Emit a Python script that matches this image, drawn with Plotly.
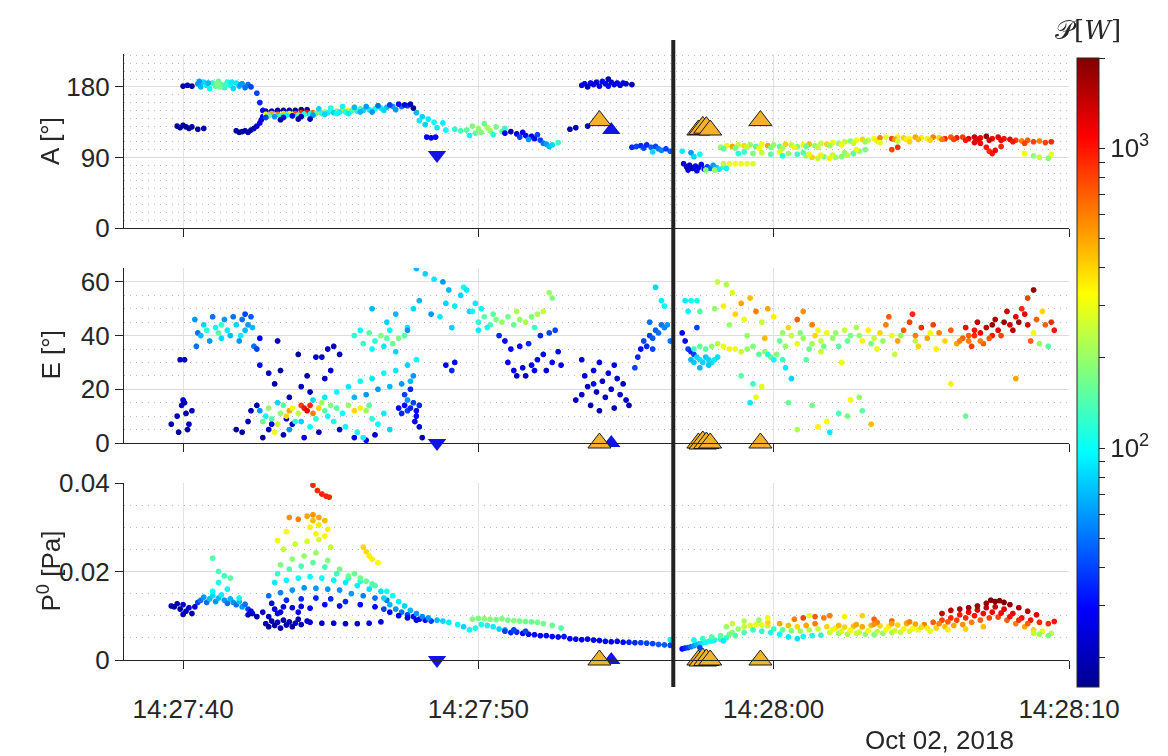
import numpy as np
import pandas as pd
import plotly.graph_objects as go

# ---------------- data (t = seconds after 14:27:00, value, power [W]) ----------------
BASE = pd.Timestamp("2018-10-02 14:27:00")

A_POINTS = [
    (40.0,181,18),(40.15,182,20),(40.3,181,18),
    (40.5,184,60),(40.6,180,70),(40.7,186,80),(40.8,182,90),(40.9,178,100),(41.0,185,120),(41.1,181,150),
    (41.2,187,160),(41.3,183,150),(41.4,179,120),(41.5,186,110),(41.6,182,100),(41.7,178,80),(41.8,185,90),
    (41.9,181,70),(42.0,184,60),(42.1,179,50),(42.2,183,50),(42.3,180,40),(42.5,172,40),(42.6,160,35),(42.7,150,30),
    (40.55,187,60),(40.85,185,70),(41.15,184,180),(41.25,180,170),(41.45,183,130),(41.65,186,90),(41.95,183,60),
    (39.8,130,18),(39.9,128,18),(40.0,131,17),(40.1,129,18),(40.2,127,17),(40.3,129,20),(40.5,126,18),(40.7,127,20),
    (41.8,124,18),(41.9,122,17),(42.0,123,18),(42.1,124,18),(42.2,122,20),(42.3,125,18),(42.4,127,20),(42.5,130,22),
    (42.6,134,25),(42.65,138,25),(42.7,142,25),
    (42.8,149,18),(43.0,149,18),(43.2,150,18),(43.4,150,18),(43.6,150,18),(43.8,150,18),(44.0,151,18),(44.2,151,18),
    (42.8,145,300),(43.0,146,500),(43.2,145,600),(43.4,146,400),(43.6,146,350),(43.8,146,800),(44.0,147,900),
    (44.2,147,1000),(44.4,147,700),(44.6,148,300),(44.8,148,200),(45.0,149,150),(45.2,149,200),(45.4,150,300),
    (45.6,150,350),(45.8,151,250),(46.0,152,150),
    (42.9,143,150),(43.1,143,200),(43.3,143,120),(43.5,144,100),(43.7,144,250),(43.9,144,150),(44.1,145,120),
    (44.3,145,100),(44.5,146,150),(44.7,146,120),(44.9,147,100),(45.1,147,80),(45.3,148,90),(45.5,148,120),
    (45.7,149,150),(45.9,149,100),(46.1,150,80),(46.3,151,90),(46.5,152,110),(46.7,153,90),(46.9,154,70),
    (47.1,155,60),(47.4,155,50),(47.6,156,40),
    (42.8,141,40),(43.1,142,60),(43.4,141,30),(43.7,143,25),(44.0,142,20),(44.4,144,60),(44.8,145,80),(45.2,146,100),
    (45.6,146,90),(46.0,148,70),(46.4,148,60),(46.8,150,80),(47.2,151,60),
    (44.6,152,80),(45.0,153,120),(45.4,155,100),(45.8,154,70),(46.2,155,60),(46.6,156,50),(47.0,157,40),(47.3,158,30),
    (47.5,157,25),(47.7,158,20),(47.8,153,18),(43.3,138,18),(43.9,139,18),(44.3,139,20),
    (47.9,147,70),(48.1,142,80),(48.3,139,90),(48.5,135,100),(48.2,132,80),(48.6,128,90),(48.9,125,100),(48.0,137,90),
    (48.8,134,90),(48.25,116,30),(48.4,115,25),(48.55,116,30),(49.2,126,120),(49.4,124,140),
    (49.6,125,150),(49.8,130,180),(49.9,121,160),(50.0,127,200),(50.1,122,180),(50.2,133,160),(50.3,128,220),
    (50.4,124,200),(50.6,129,170),(50.8,123,150),(50.5,119,120),(49.7,118,100),(50.9,127,130),
    (50.9,121,25),(51.1,123,20),(51.3,120,22),(51.5,122,25),(51.6,118,30),(51.8,117,25),(51.9,114,30),(52.0,119,40),
    (52.1,112,40),(52.2,108,50),(52.3,107,60),(52.4,104,70),(52.5,106,80),(52.7,109,130),(51.4,116,40),(51.7,113,60),
    (53.1,126,20),(53.3,128,18),(53.7,130,20),
    (53.5,182,25),(53.6,184,25),(53.7,180,22),(53.8,185,25),(53.9,183,25),(54.0,186,22),(54.1,181,25),(54.2,187,28),
    (54.3,184,25),(54.4,190,20),(54.5,186,22),(54.6,183,25),(54.7,185,25),(54.8,182,22),(55.0,184,22),(55.2,183,20),
    (54.4,181,30),(54.9,185,25),
    (55.2,103,35),(55.35,104,40),(55.5,105,35),(55.6,102,40),(55.7,106,35),(55.85,103,45),(56.0,104,40),(56.1,101,50),
    (56.2,99,55),(56.35,101,40),(56.5,98,45),(55.9,97,80),
    (56.9,98,90),(57.2,96,60),(57.3,91,80),(57.5,94,100),
    (56.95,82,25),(57.05,78,20),(57.15,80,22),(57.25,76,20),(57.35,79,25),(57.45,77,22),(57.55,81,30),(57.65,75,28),
    (57.75,78,40),(57.85,76,50),(57.95,80,60),(58.05,77,70),(58.15,75,90),(58.3,78,120),(57.1,74,22),(57.4,73,30),
    (57.7,74,180),(58.0,74,200),(58.4,76,100),
    (58.3,82,250),(58.5,82,300),(58.7,82,320),(58.9,82,300),(59.1,82,300),(59.3,82,280),
    (58.2,103,200),(58.4,105,300),(58.6,104,500),(58.8,106,250),(59.0,105,400),(59.2,106,200),(59.4,104,150),
    (59.6,107,300),(59.8,105,500),(60.0,106,200),(60.2,104,150),(60.4,107,400),(60.6,106,250),(60.8,104,180),
    (61.0,106,300),(61.2,107,450),(61.4,105,200),(61.6,108,250),(61.8,107,400),(62.0,109,300),(62.2,108,200),
    (62.4,110,250),(62.6,111,180),(62.8,112,300),(63.0,113,400),(63.2,112,250),(63.4,114,300),
    (58.3,101,150),(58.7,102,180),(59.1,103,250),(59.5,102,300),(59.9,103,180),(60.3,102,220),(60.7,103,300),
    (61.1,104,160),(61.5,103,250),(61.9,105,200),(62.3,106,300),(62.7,108,250),(63.1,110,200),(63.5,111,350),
    (63.6,115,600),(63.8,116,300),(64.0,114,800),(64.2,116,350),(64.4,115,400),(64.6,114,300),(64.8,116,500),
    (65.0,115,350),(65.2,114,300),(65.4,116,600),(65.6,115,400),(65.8,114,900),(66.0,116,700),(66.2,115,1000),
    (66.4,116,800),(66.6,114,1200),(66.8,116,1500),(67.0,115,1200),(67.2,117,1800),(67.4,114,1100),(67.6,116,1300),
    (67.8,114,1000),(68.0,113,1200),(68.2,112,800),(68.4,111,600),(68.6,112,700),(68.8,110,800),(69.0,111,600),
    (69.2,109,800),(69.4,110,900),
    (64.1,113,500),(64.5,113,350),(64.9,113,450),(65.3,112,400),(65.7,113,600),(66.1,113,800),(66.5,112,1000),
    (66.9,113,1300),(67.3,112,1400),(67.7,112,1200),(68.1,110,1000),(68.5,108,800),
    (67.0,108,1100),(67.2,103,1000),(67.3,98,900),(67.4,95,1000),(67.5,99,1100),(67.7,104,900),(66.8,109,1200),
    (59.0,97,130),(59.3,95,180),(59.6,96,250),(59.9,94,150),(60.2,97,300),(60.5,95,200),(60.8,94,130),(61.1,92,200),
    (61.3,90,400),(61.5,89,250),(61.7,91,180),(61.9,89,350),(62.1,90,200),(62.3,91,180),(62.5,93,250),(62.7,95,150),
    (62.9,98,200),(63.1,100,180),(60.3,92,120),(61.0,96,150),(58.8,95,120),
    (61.2,94,300),(61.6,93,350),(62.0,93,250),(62.4,96,200),(62.8,100,300),
    (68.5,95,300),(68.8,92,200),(69.0,90,250),(69.3,89,180),(69.4,94,300),
    (63.6,109,300),(64.2,111,250),(64.6,110,400),(64.2,103,900),(64.0,100,800),
]

E_POINTS = [
    (39.6,7,20),(39.8,10,20),(39.85,4,18),(39.95,14,22),(40.05,15,20),(40.1,11,18),(39.9,31,22),(40.05,31,20),
    (40.3,12,20),(40.15,5,18),(40.0,16,22),(40.2,7,20),
    (40.4,46,60),(40.5,41,50),(40.6,40,70),(40.7,44,80),(40.8,42,120),(40.9,38,60),(41.0,47,50),(41.1,43,100),
    (41.2,41,150),(41.3,39,80),(41.4,46,60),(41.5,42,90),(41.6,40,70),(41.7,47,50),(41.8,44,80),(41.9,38,60),
    (42.0,46,50),(42.1,42,70),(42.3,47,45),(41.3,44,130),(40.45,36,50),(41.95,40,90),(42.2,44,60),(42.4,36,50),
    (42.5,35,40),(42.6,29,30),(42.6,39,30),(42.1,48,40),(42.35,43,70),
    (41.8,5,18),(42.0,4,18),(42.3,12,20),(42.5,14,20),(42.9,26,22),(43.1,22,18),(43.2,38,20),(43.3,27,18),
    (43.6,17,20),(43.9,33,18),(44.0,21,22),(44.2,25,18),(44.3,19,20),(44.5,32,20),(44.7,32,22),(44.9,35,20),
    (45.1,36,22),(45.0,27,24),(44.8,24,22),(45.3,33,20),(42.7,2,18),(42.9,5,20),(43.4,3,20),(43.7,7,22),
    (44.1,2,25),(44.6,4,20),(45.3,5,22),(45.8,2,25),(46.2,1,30),(46.5,3,22),(42.2,8,20),(43.0,7,25),(43.5,9,20),
    (42.6,12,60),(42.8,10,100),(42.9,13,200),(43.0,9,150),(43.1,4,300),(43.2,7,250),(43.3,11,200),(43.4,14,150),
    (43.5,10,400),(43.6,12,500),(43.7,13,300),(43.8,8,120),(43.9,11,250),(44.0,14,800),(44.1,13,1000),
    (44.2,12,1200),(44.3,14,900),(44.4,11,600),(44.5,9,120),(44.6,13,400),(44.7,15,200),(44.8,12,150),
    (44.9,10,100),(45.0,14,180),(45.2,13,150),(45.4,11,100),(45.6,14,200),(45.8,12,400),(46.0,13,350),
    (46.2,12,200),(46.4,9,120),(46.6,7,100),(46.8,11,90),(47.0,5,80),(45.5,6,100),(45.9,4,110),(46.1,2,100),
    (44.3,6,100),(44.0,8,80),(43.6,5,60),(45.1,8,110),(46.3,14,150),(42.7,8,160),(43.2,15,80),
    (44.4,16,80),(44.8,17,90),(45.2,19,100),(45.6,21,90),(46.0,23,100),(46.4,24,90),(46.8,26,100),(47.2,27,90),
    (47.6,29,80),(47.9,31,100),(45.8,17,70),(46.2,18,60),(46.6,20,60),(47.0,21,70),(47.4,22,60),(47.7,23,70),
    (47.8,25,60),
    (45.8,40,120),(46.0,42,100),(46.1,37,130),(46.3,41,150),(46.5,38,120),(46.7,40,180),(46.9,39,150),
    (47.1,37,160),(47.3,39,180),(47.5,40,150),(46.4,35,100),(46.8,36,90),(47.2,34,80),(47.0,42,100),(47.6,43,90),
    (46.4,50,70),(46.9,45,80),(47.2,48,70),(47.6,42,60),(47.8,50,80),(47.9,65,70),(48.2,63,80),(48.5,61,90),
    (48.8,60,60),(48.0,53,70),(48.4,48,60),(48.9,52,80),(49.0,57,70),(49.2,51,90),(49.4,55,80),(49.5,58,100),
    (49.6,57,90),(48.7,47,90),(49.1,43,80),(49.7,49,80),(49.9,52,90),
    (47.3,13,30),(47.4,11,35),(47.5,14,30),(47.6,12,40),(47.7,13,35),(47.8,15,40),(47.9,12,30),(48.0,14,35),
    (47.5,18,40),(47.7,20,35),(47.9,10,30),(47.6,16,60),(47.85,8,25),(48.1,2,20),(48.0,6,25),
    (48.9,29,30),(49.1,27,35),(49.2,30,30),
    (50.0,45,120),(50.2,47,150),(50.4,44,140),(50.6,46,180),(50.8,45,200),(51.0,47,170),(51.2,44,160),
    (51.4,46,200),(51.6,45,220),(51.8,47,180),(52.0,48,220),(52.2,49,250),(50.1,50,100),(50.3,43,110),
    (50.5,48,150),(51.3,49,220),(51.9,43,130),(52.4,56,200),(52.5,54,180),(50.0,42,90),(49.8,49,100),
    (50.7,40,35),(50.9,38,30),(51.0,30,25),(51.1,35,30),(51.2,27,25),(51.3,25,22),(51.4,36,30),(51.5,28,25),
    (51.6,25,22),(51.7,37,35),(51.8,29,25),(51.9,27,25),(52.0,31,30),(52.1,40,35),(52.2,33,30),(52.3,27,25),
    (52.4,41,40),(52.5,30,30),(52.6,42,40),(52.7,34,30),(52.8,29,25),
    (53.3,16,20),(53.5,18,22),(53.6,25,25),(53.7,21,22),(53.8,14,20),(53.9,27,25),(54.0,19,22),(54.1,30,25),
    (54.2,23,22),(54.3,17,20),(54.4,26,25),(54.5,20,22),(54.6,13,20),(54.7,24,22),(54.8,18,25),(54.9,22,20),
    (55.0,16,22),(55.1,14,20),(54.1,12,18),(53.5,31,25),(54.6,29,25),(53.9,22,30),
    (55.4,32,35),(55.5,35,30),(55.6,38,40),(55.7,36,35),(55.8,40,40),(55.9,39,45),(56.0,42,45),(56.1,41,50),
    (56.2,44,50),(56.3,43,55),(56.4,44,60),(55.8,45,50),(56.0,58,80),(56.2,53,90),(56.3,51,100),(55.9,35,40),
    (56.5,38,50),(55.3,28,40),
    (56.9,41,30),(57.0,38,30),(57.1,35,40),(57.2,34,35),(57.3,33,40),(57.0,53,90),(57.2,53,100),(57.1,49,95),
    (57.4,53,110),(57.4,43,40),(57.5,49,150),
    (57.2,31,70),(57.3,30,75),(57.4,32,80),(57.5,31,85),(57.6,30,80),(57.7,32,75),(57.8,31,80),(57.9,30,85),
    (58.0,31,90),(58.1,32,85),(57.5,28,70),(57.8,29,75),
    (57.3,35,130),(57.5,36,160),(57.7,35,150),(57.9,36,200),(58.1,37,250),(58.3,36,300),(58.5,35,350),
    (58.7,35,300),(58.9,34,250),(59.1,35,200),(59.3,36,180),(59.5,33,150),(59.7,34,200),(59.9,32,160),
    (60.1,33,180),(60.3,31,130),
    (58.1,60,250),(58.4,59,220),(58.6,56,280),(58.0,50,200),(58.3,51,350),(58.5,44,200),(58.7,48,400),
    (58.9,52,500),(59.0,46,300),(59.2,54,450),(59.4,49,600),(59.6,45,250),(59.8,50,500),(60.0,47,350),
    (60.3,41,200),(60.5,43,400),(60.8,46,700),(61.0,49,550),(61.3,44,600),(61.5,42,300),(59.1,40,200),(59.7,39,450),
    (58.9,25,150),(59.3,22,130),(59.2,15,90),(59.4,17,300),(59.6,21,280),(60.5,15,160),(60.8,5,220),(61.3,14,170),
    (61.5,6,350),(61.8,8,330),(61.9,4,90),(62.2,11,140),(62.5,10,180),(62.6,16,300),(63.0,12,150),(63.3,7,450),
    (66.0,22,350),(66.5,10,160),(68.2,24,500),(62.9,17,200),
    (60.2,38,160),(60.4,36,200),(60.6,40,250),(60.8,37,300),(61.0,39,200),(61.2,35,160),(61.4,40,400),
    (61.6,38,250),(61.8,41,300),(62.0,39,200),(62.2,36,150),(62.4,42,250),(62.6,40,180),(62.8,43,220),
    (63.0,38,350),(60.0,31,100),(60.4,28,90),(60.6,24,80),(59.8,33,120),(61.1,31,150),(61.6,34,250),(62.3,30,300),
    (60.9,41,180),(61.3,37,220),(61.7,36,170),(62.1,41,200),(62.5,38,160),(62.9,40,200),(63.3,37,180),
    (63.7,38,200),(64.3,40,200),(64.8,38,250),(65.3,41,300),
    (63.2,42,350),(63.4,39,250),(63.6,41,400),(63.8,44,600),(64.0,40,300),(64.2,38,500),(64.4,42,700),
    (64.6,45,800),(64.8,40,600),(65.0,43,900),(65.2,39,500),(65.4,44,800),(65.6,41,600),(65.8,38,400),
    (66.0,42,700),(63.5,35,300),(64.1,33,250),(64.9,36,400),(65.5,35,350),(63.9,47,700),(64.7,48,900),
    (66.2,37,500),(66.4,39,700),(66.6,38,600),(66.8,40,900),(67.0,41,1200),(67.2,43,1500),(67.4,40,1000),
    (67.6,42,1300),(67.8,45,1800),(68.0,44,1400),(68.2,47,1200),(68.4,50,900),(68.6,54,800),(68.8,57,1800),
    (68.5,48,1200),(67.9,49,1400),(67.5,46,1600),(66.9,45,1500),(66.5,43,1100),(68.9,46,700),(69.1,49,400),
    (69.2,44,700),(69.4,45,900),(69.5,42,1000),(68.8,41,300),(69.0,37,200),(69.3,36,150),(68.7,38,700),
    (67.1,37,700),(66.7,36,800),
    (66.3,38,600),(66.6,40,700),(67.0,38,600),(67.3,39,700),(67.7,40,800),(68.1,42,1500),(68.3,45,1700),
    (67.4,44,1800),(66.8,42,1000),(68.6,44,1300),
]

P_POINTS = [
    (39.6,0.0122,20),(39.7,0.012,18),(39.8,0.0127,20),(39.9,0.0115,18),(40.0,0.0125,22),(40.1,0.011,20),
    (40.2,0.0118,22),(40.3,0.0105,18),(40.4,0.012,25),(40.0,0.0103,20),
    (40.5,0.013,40),(40.6,0.0135,50),(40.7,0.0142,60),(40.8,0.013,50),(40.9,0.0138,70),(41.0,0.0145,80),
    (41.1,0.0132,60),(41.2,0.014,70),(41.3,0.0147,90),(41.4,0.0135,60),(41.5,0.0128,50),(41.6,0.0138,70),
    (41.7,0.013,60),(41.8,0.0125,50),(41.9,0.0132,70),(42.0,0.012,60),(42.1,0.0126,50),(42.2,0.0115,40),
    (41.0,0.0155,100),(41.5,0.016,100),(41.2,0.0175,110),(41.0,0.023,150),(41.4,0.019,130),(41.6,0.0185,150),
    (41.2,0.02,140),(41.9,0.014,100),
    (42.2,0.0102,20),(42.35,0.0105,22),(42.5,0.0098,18),(42.7,0.0108,20),(42.3,0.011,25),
    (42.8,0.0082,18),(42.9,0.0075,17),(43.0,0.0088,18),(43.1,0.0078,17),(43.2,0.0085,20),(43.3,0.0072,18),
    (43.4,0.009,18),(43.5,0.0079,17),(43.6,0.0086,20),(43.7,0.0075,18),(43.8,0.0083,20),(43.9,0.0092,18),
    (44.0,0.008,20),(44.2,0.0088,22),(42.9,0.0098,20),(43.2,0.0105,22),
    (43.1,0.0115,25),(43.4,0.012,25),(43.7,0.0118,25),(44.0,0.0121,25),(44.3,0.0117,28),(43.3,0.0108,25),
    (43.9,0.0108,28),
    (43.0,0.0128,30),(43.5,0.0135,35),(44.0,0.0138,35),(44.5,0.014,35),(45.0,0.0138,35),(45.5,0.0132,35),
    (46.0,0.0125,30),(46.5,0.012,30),(44.8,0.0125,30),(45.3,0.0122,30),
    (44.3,0.0085,22),(44.7,0.0083,22),(45.1,0.0083,22),(45.5,0.0082,22),(45.9,0.0082,22),(46.3,0.0083,25),
    (46.7,0.0086,25),
    (42.9,0.0145,50),(43.3,0.0152,55),(43.7,0.0158,60),(44.1,0.0163,60),(44.5,0.0162,60),(44.9,0.016,60),
    (45.3,0.0158,60),(45.7,0.015,60),(46.1,0.0145,55),(46.5,0.014,50),(46.9,0.0135,50),
    (43.1,0.0175,90),(43.5,0.018,95),(43.9,0.0185,100),(44.3,0.0188,100),(44.7,0.0185,100),(45.1,0.018,95),
    (45.5,0.0175,90),(45.9,0.0168,90),(46.3,0.016,85),(46.7,0.0155,85),
    (43.2,0.0195,130),(43.6,0.0205,140),(44.0,0.0212,140),(44.4,0.022,150),(44.8,0.021,140),(45.2,0.0195,130),
    (45.6,0.0185,120),(46.0,0.0178,110),(46.4,0.017,110),
    (43.3,0.0215,180),(43.7,0.0228,190),(44.1,0.0235,200),(44.5,0.0242,200),(44.9,0.0225,180),(45.3,0.0205,170),
    (43.4,0.025,250),(43.8,0.0262,260),(44.2,0.0268,270),(44.6,0.0272,270),(45.0,0.0255,250),
    (43.2,0.027,300),(43.5,0.029,330),(44.3,0.03,350),(44.6,0.0305,360),(44.9,0.0295,350),(44.8,0.028,340),
    (44.5,0.0285,340),
    (43.6,0.0322,550),(43.9,0.0318,600),(44.2,0.0325,500),(44.4,0.0328,550),(44.6,0.0322,500),(44.8,0.0315,450),
    (44.4,0.0315,450),
    (44.4,0.0395,900),(44.55,0.0383,900),(44.7,0.0375,950),(44.85,0.037,950),(44.95,0.0368,900),
    (46.1,0.0255,400),(46.3,0.0235,350),(46.4,0.0228,350),(46.6,0.022,320),(46.2,0.0245,380),
    (45.6,0.019,170),(45.8,0.0195,160),(46.0,0.0185,170),(46.2,0.0178,160),(46.4,0.0172,150),(46.5,0.0168,140),
    (46.8,0.014,80),(47.0,0.0125,70),(47.2,0.0115,60),(47.4,0.0108,50),(47.6,0.0102,40),(47.8,0.0098,30),
    (48.0,0.0092,25),(48.2,0.009,30),(48.4,0.0088,40),(46.9,0.0155,110),(47.1,0.0145,100),(47.3,0.0132,90),
    (47.5,0.0122,80),(47.7,0.0112,70),(47.9,0.0105,60),(48.1,0.0098,55),(48.3,0.0095,60),(48.6,0.009,70),
    (48.8,0.0088,80),(49.0,0.0085,90),(49.3,0.008,100),(49.5,0.0075,80),(47.0,0.0108,30),(47.3,0.01,28),
    (47.6,0.0095,30),(47.9,0.009,25),(46.8,0.0115,40),
    (49.8,0.0092,180),(50.0,0.0094,170),(50.2,0.0093,190),(50.4,0.0092,180),(50.6,0.0091,170),(50.8,0.0093,180),
    (51.0,0.009,170),(51.2,0.0089,180),(51.4,0.0088,170),(51.6,0.0087,170),(51.8,0.0086,160),(52.0,0.0085,170),
    (52.2,0.0082,170),(52.5,0.0078,160),(52.8,0.0072,140),
    (49.7,0.0068,100),(49.9,0.0072,110),(50.1,0.008,110),(50.3,0.0078,100),(50.5,0.0075,90),(50.7,0.007,80),
    (50.9,0.0068,70),
    (50.9,0.0065,40),(51.1,0.0062,35),(51.3,0.0063,35),(51.5,0.006,30),(51.7,0.0058,30),(51.9,0.0057,30),
    (52.1,0.0055,28),(52.3,0.0055,30),(52.5,0.0053,30),(52.7,0.0052,30),(52.9,0.0053,32),(53.1,0.0048,28),
    (51.2,0.0068,40),(51.6,0.0065,40),
    (53.3,0.0047,28),(53.5,0.0046,25),(53.7,0.0047,28),(53.9,0.0045,28),(54.1,0.0044,25),(54.3,0.0042,30),
    (54.5,0.0041,28),(54.7,0.0042,30),(54.9,0.004,28),(55.1,0.004,35),(55.3,0.0039,35),(55.5,0.0039,40),
    (55.7,0.0038,40),(55.9,0.0037,40),(56.1,0.0035,45),(56.3,0.0034,45),(56.5,0.0033,40),(56.5,0.0046,90),
    (56.9,0.0025,30),(57.0,0.0027,35),(57.1,0.0028,40),(57.2,0.003,50),(57.3,0.0032,60),(57.4,0.0035,70),
    (57.5,0.0037,80),(57.6,0.0039,90),(57.7,0.004,100),(57.8,0.0042,110),(57.9,0.0043,100),(58.0,0.0045,110),
    (58.2,0.0047,120),(58.4,0.005,130),(57.3,0.0045,100),(57.6,0.0048,130),(57.9,0.0052,150),(58.2,0.0055,160),
    (58.5,0.0058,170),(58.3,0.0043,90),(57.5,0.0028,40),
    (58.6,0.0062,180),(58.8,0.007,200),(59.0,0.0075,250),(59.2,0.0078,280),(59.4,0.008,300),(59.6,0.0079,300),
    (59.8,0.0077,250),(58.7,0.0055,150),(59.0,0.0062,140),(59.3,0.0068,130),(59.6,0.0065,120),(59.9,0.0062,110),
    (60.2,0.0058,100),(60.5,0.0052,90),(60.8,0.0048,85),(61.0,0.0053,100),(61.3,0.0055,110),(61.6,0.0056,120),
    (60.0,0.007,130),(60.3,0.0068,160),(60.6,0.0066,180),(60.9,0.0065,200),(61.2,0.0068,220),(61.5,0.007,250),
    (58.4,0.0075,200),(58.6,0.0082,250),(59.0,0.0088,220),(59.8,0.0085,400),(60.2,0.0082,500),(60.5,0.0078,450),
    (60.8,0.0075,400),(61.1,0.0078,500),(61.4,0.0082,600),(60.7,0.0092,600),(61.0,0.0095,800),(61.4,0.0098,700),
    (61.7,0.0095,600),(61.2,0.01,300),(61.9,0.01,600),(62.4,0.0098,350),(63.0,0.01,400),(63.4,0.0092,700),
    (59.8,0.0095,300),(59.5,0.009,200),
    (61.8,0.0075,400),(62.1,0.0072,350),(62.4,0.0074,400),(62.7,0.0076,450),(63.0,0.0075,500),(63.3,0.0078,450),
    (63.6,0.0077,400),(63.9,0.0076,350),(64.2,0.0079,400),(64.5,0.0082,450),(64.8,0.0081,500),(65.1,0.008,600),
    (61.9,0.0062,250),(62.2,0.006,200),(62.5,0.0058,220),(62.8,0.006,250),(63.1,0.0058,200),(63.4,0.0057,180),
    (63.7,0.006,200),(64.0,0.0062,220),(64.3,0.0063,250),(64.6,0.0065,280),(64.9,0.0068,300),(65.2,0.0072,350),
    (62.0,0.0068,300),(62.6,0.0067,320),(63.2,0.0066,300),(63.8,0.0068,330),(64.4,0.007,350),(63.5,0.0085,600),
    (64.0,0.0088,700),(64.5,0.0083,500),
    (62.3,0.0065,280),(62.9,0.0063,260),(63.5,0.0064,240),(64.1,0.0066,260),(64.7,0.0071,320),(65.0,0.0074,380),
    (62.2,0.0078,450),(62.8,0.008,500),(63.4,0.0081,550),(64.0,0.0082,500),(64.6,0.0086,600),
    (65.4,0.0085,700),(65.7,0.009,800),(66.0,0.0095,900),(66.3,0.0102,1000),(66.6,0.0108,1200),(66.9,0.0113,1300),
    (67.2,0.0118,1500),(67.5,0.012,1400),(67.8,0.0115,1300),(68.1,0.0105,1200),(68.4,0.0095,1100),(68.7,0.009,1000),
    (69.0,0.0085,900),(69.3,0.0082,900),(69.5,0.0087,1000),
    (65.7,0.0105,1400),(66.0,0.0112,1500),(66.3,0.0115,1600),(66.6,0.0118,1700),(66.9,0.0122,1800),
    (67.2,0.0128,1900),(67.5,0.0132,2000),(67.8,0.013,2000),(68.0,0.0125,1900),(68.3,0.0118,1700),
    (68.6,0.011,1500),(68.9,0.0102,1300),(67.35,0.0135,2000),(67.65,0.0134,1900),
    (65.5,0.0072,400),(65.8,0.0075,450),(66.1,0.0078,500),(66.4,0.008,550),(66.7,0.0085,600),(67.0,0.009,700),
    (67.3,0.0095,800),(67.6,0.0097,800),(67.9,0.009,700),(68.2,0.0082,600),(68.5,0.0075,500),(68.8,0.0068,400),
    (69.1,0.0065,300),(69.4,0.006,250),(65.3,0.0065,300),(65.9,0.0068,350),(66.5,0.007,400),(67.1,0.0075,450),
    (69.0,0.0058,200),(69.3,0.0055,180),(68.8,0.006,250),
    (65.6,0.0082,600),(65.9,0.0086,700),(66.2,0.009,800),(66.5,0.0095,900),(66.8,0.01,1000),(67.1,0.0105,1100),
    (67.4,0.0108,1200),(67.7,0.0106,1100),(68.0,0.0098,1000),(68.3,0.009,900),(68.6,0.0082,700),
]

a_time, a_deg, a_power = map(list, zip(*A_POINTS))
e_time, e_deg, e_power = map(list, zip(*E_POINTS))
p_time, p_pa, p_power = map(list, zip(*P_POINTS))

# event markers
down_time = [48.6]
down_az = [93]
up_blue_time = [54.5]
up_blue_az = [125]
up_orange_time = [54.1, 57.45, 57.6, 57.72, 57.85, 59.55]
up_orange_az = [137, 125, 127, 128, 125, 137]
up_orange_size = [20, 20, 24, 22, 20, 20]
vline_time = 56.6

x_ticks = [40, 50, 60, 70]
a_ticks = [0, 90, 180]
e_ticks = [0, 20, 40, 60]
p_ticks = [0, 0.02, 0.04]
p_ticklabels = ["0", "0.02", "0.04"]
cbar_minor = [20, 30, 40, 50, 60, 70, 80, 90, 200, 300, 400, 500, 600, 700, 800, 900, 2000]

C_MIN, C_MAX = np.log10(16), np.log10(2000)

def ts(sec):
    return BASE + pd.to_timedelta(np.asarray(sec, dtype=float), unit="s")

JET = [[0.0, "#00008F"], [0.125, "#0000FF"], [0.375, "#00FFFF"], [0.625, "#FFFF00"],
       [0.875, "#FF0000"], [1.0, "#800000"]]

W, H = 1168, 756
OFF = 8  # default page body margin of the html output
L, R, T, B = 124, 1069, 54, 660   # target pixel positions of the plot area
PH = B - T
def py(y):  # pixel y -> paper
    return (B - y) / PH
def px(x):
    return (x - L) / (R - L)

FONT = "Liberation Sans"
TXT = "#262626"
TICKSIZE = 26

fig = go.Figure()
AX = ["", "2", "3"]
data_sets = [(a_time, a_deg, a_power), (e_time, e_deg, e_power), (p_time, p_pa, p_power)]
cb_vals = [np.log10(v) for v in [100, 1000] + cbar_minor]
cb_text = ["10<sup>2</sup>", "10<sup>3</sup>"] + [""] * len(cbar_minor)
for i, (t, v, pw) in enumerate(data_sets):
    fig.add_trace(go.Scattergl(
        x=ts(t), y=v, mode="markers", xaxis="x" + AX[i], yaxis="y" + AX[i],
        marker=dict(size=6, opacity=1, color=np.log10(pw), colorscale=JET, cmin=C_MIN, cmax=C_MAX,
                    showscale=(i == 0),
                    colorbar=dict(x=px(1077), xanchor="left", y=py(58), yanchor="top",
                                  xpad=0, ypad=0,
                                  lenmode="pixels", len=629, thickness=22,
                                  outlinecolor="#262626", outlinewidth=1,
                                  tickvals=cb_vals, ticktext=cb_text, ticks="outside",
                                  ticklen=6, tickcolor="#262626",
                                  tickfont=dict(family=FONT, size=TICKSIZE, color=TXT))),
        showlegend=False, hoverinfo="skip"))

# markers in each panel
for i in range(3):
    xa, ya = "x" + AX[i], "y" + AX[i]
    yd = down_az if i == 0 else [0]
    yb = up_blue_az if i == 0 else [0]
    yo = up_orange_az if i == 0 else [0] * len(up_orange_time)
    fig.add_trace(go.Scatter(x=ts(down_time), y=yd, mode="markers", xaxis=xa, yaxis=ya, cliponaxis=False,
                             marker=dict(symbol="triangle-down", size=16, opacity=1, color="#1212EA",
                                         line=dict(width=0)),
                             showlegend=False, hoverinfo="skip"))
    fig.add_trace(go.Scatter(x=ts(up_blue_time), y=yb, mode="markers", xaxis=xa, yaxis=ya, cliponaxis=False,
                             marker=dict(symbol="triangle-up", size=16, opacity=1, color="#1212EA",
                                         line=dict(width=0)),
                             showlegend=False, hoverinfo="skip"))
    fig.add_trace(go.Scatter(x=ts(up_orange_time), y=yo, mode="markers", xaxis=xa, yaxis=ya, cliponaxis=False,
                             marker=dict(symbol="triangle-up", size=up_orange_size, opacity=1, color="#F4B12C",
                                         line=dict(width=1, color="#1a1a1a")),
                             showlegend=False, hoverinfo="skip"))

xcommon = dict(type="date", range=[ts([38])[0], ts([70])[0]], tickvals=ts(x_ticks), tickformat="%H:%M:%S",
               showline=True, linecolor=TXT, linewidth=1.2, ticks="outside", ticklen=8, tickcolor=TXT,
               showgrid=True, gridcolor="#E3E3E3", gridwidth=1, zeroline=False,
               tickfont=dict(family=FONT, size=TICKSIZE, color=TXT))
ycommon = dict(showline=True, linecolor=TXT, linewidth=1.2, ticks="outside", ticklen=8, tickcolor=TXT,
               showgrid=True, gridcolor="#DCDCDC", gridwidth=1, zeroline=False,
               tickfont=dict(family=FONT, size=TICKSIZE, color=TXT))

doms = [[py(228), py(54)], [py(443), py(268)], [py(660), py(483)]]
yranges = [[0, 222], [0, 65.2], [0, 0.04]]
yticks = [a_ticks, e_ticks, p_ticks]
minors = [10, 5, 0.005]
layout = dict(width=W, height=H,
              margin=dict(l=L - OFF, r=W - (R - OFF), t=T - OFF, b=H - (B - OFF), autoexpand=False),
              paper_bgcolor="white", plot_bgcolor="white")
for i in range(3):
    xa = dict(xcommon, anchor="y" + AX[i], showticklabels=(i == 2))
    if i < 2:
        xa["matches"] = "x3"
    else:
        xa["ticklabelstandoff"] = 18
    ya = dict(ycommon, domain=doms[i], range=yranges[i], tickvals=yticks[i], anchor="x" + AX[i],
              minor=dict(dtick=minors[i], tick0=0, showgrid=True, gridcolor="#BDBDBD",
                         griddash="1px,5px", gridwidth=1, ticks=""))
    if i == 2:
        ya["ticktext"] = p_ticklabels
    layout["xaxis" + AX[i]] = xa
    layout["yaxis" + AX[i]] = ya

fig.update_layout(**layout)

# y titles
for txt, yc in [("A [°]", (54 + 228) / 2), ("E [°]", (268 + 443) / 2), ("P<sup>0</sup> [Pa]", (483 + 660) / 2)]:
    fig.add_annotation(text=txt, xref="paper", yref="paper", x=px(50), y=py(yc), textangle=-90,
                       showarrow=False, xanchor="center", yanchor="middle",
                       font=dict(family=FONT, size=26, color=TXT))
fig.add_annotation(text="Oct 02, 2018", xref="paper", yref="paper", x=px(1016), y=py(740),
                   xanchor="right", yanchor="middle", showarrow=False,
                   font=dict(family=FONT, size=26, color=TXT))
fig.add_annotation(text="𝒫[<i>W</i>]", xref="paper", yref="paper", x=px(1088), y=py(30),
                   xanchor="center", yanchor="middle", showarrow=False,
                   font=dict(family="DejaVu Serif", size=26, color=TXT))

fig.add_shape(type="line", xref="x3", yref="paper", x0=ts([vline_time])[0], x1=ts([vline_time])[0],
              y0=py(40), y1=py(687), line=dict(color="#222222", width=4))

fig.write_html("out.html")
